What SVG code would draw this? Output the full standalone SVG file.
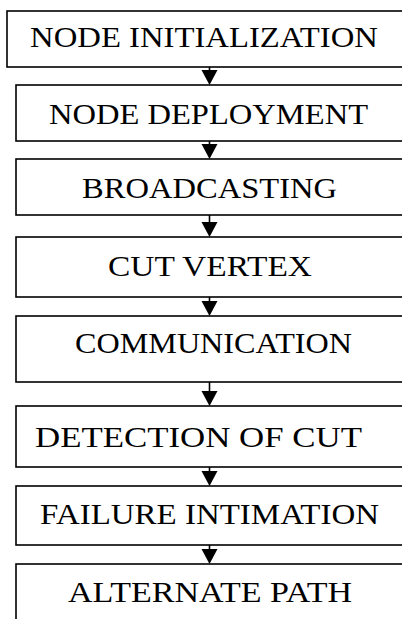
<svg xmlns="http://www.w3.org/2000/svg" width="402" height="619" viewBox="0 0 402 619">
<style>
rect{fill:#fff;stroke:#000;stroke-width:1.6}
text{font-family:"Liberation Serif","Times New Roman",serif;font-size:30px;fill:#000}
.c line{stroke:#000;stroke-width:1.6}
.c path{fill:#000}
</style>
<rect x="0" y="0" width="402" height="619" style="fill:#fff;stroke:none"/>
<g id="n1"><rect x="7" y="11" width="420" height="56"/><text x="30" y="47" textLength="348" lengthAdjust="spacingAndGlyphs">NODE INITIALIZATION</text></g>
<g id="n2"><rect x="16" y="85" width="420" height="56"/><text x="49" y="124" textLength="319" lengthAdjust="spacingAndGlyphs">NODE DEPLOYMENT</text></g>
<g id="n3"><rect x="16" y="159" width="420" height="56"/><text x="82" y="198" textLength="255" lengthAdjust="spacingAndGlyphs">BROADCASTING</text></g>
<g id="n4"><rect x="16" y="237" width="420" height="60"/><text x="108" y="276" textLength="204" lengthAdjust="spacingAndGlyphs">CUT VERTEX</text></g>
<g id="n5"><rect x="16" y="316" width="420" height="66"/><text x="75" y="353" textLength="277" lengthAdjust="spacingAndGlyphs">COMMUNICATION</text></g>
<g id="n6"><rect x="16" y="406" width="420" height="61"/><text x="35" y="447" textLength="327" lengthAdjust="spacingAndGlyphs">DETECTION OF CUT</text></g>
<g id="n7"><rect x="16" y="486" width="420" height="59"/><text x="40" y="524" textLength="339" lengthAdjust="spacingAndGlyphs">FAILURE INTIMATION</text></g>
<g id="n8"><rect x="16" y="564" width="420" height="80"/><text x="68" y="602" textLength="284" lengthAdjust="spacingAndGlyphs">ALTERNATE PATH</text></g>
<g id="connectors" class="c">
<line x1="209.5" y1="67" x2="209.5" y2="72"/><path d="M201.5 70 L217.5 70 L209.5 85 Z"/>
<line x1="209.5" y1="141" x2="209.5" y2="146"/><path d="M201.5 144 L217.5 144 L209.5 159 Z"/>
<line x1="209.5" y1="215" x2="209.5" y2="224"/><path d="M201.5 222 L217.5 222 L209.5 237 Z"/>
<line x1="209.5" y1="297" x2="209.5" y2="303"/><path d="M201.5 301 L217.5 301 L209.5 316 Z"/>
<line x1="209.5" y1="382" x2="209.5" y2="393"/><path d="M201.5 391 L217.5 391 L209.5 406 Z"/>
<line x1="209.5" y1="467" x2="209.5" y2="473"/><path d="M201.5 471 L217.5 471 L209.5 486 Z"/>
<line x1="209.5" y1="545" x2="209.5" y2="551"/><path d="M201.5 549 L217.5 549 L209.5 564 Z"/>
</g>
</svg>
